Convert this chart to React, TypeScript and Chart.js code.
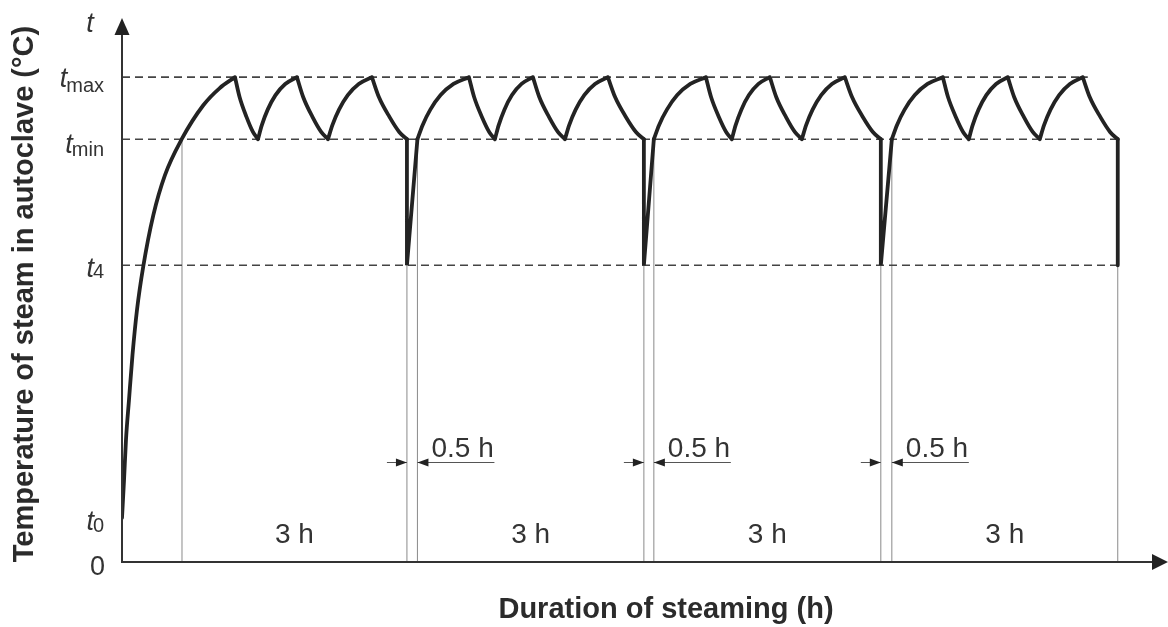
import React, { useEffect, useRef } from 'react';
import { Chart, registerables } from 'chart.js';

Chart.register(...registerables);

// ---- Levels (schematic temperature units, t_max = 100) ----
const T_MAX = 100;
const T_MIN = 87.2;
const T_4 = 61.2;
const T_0 = 9.1;
const X_MAX = 13.95;
const Y_MAX = 112.2;

// ---- Cycle boundaries (schematic time units) ----
const CYCLE_START = [0.8, 3.94, 7.093, 10.267];
const CYCLE_END = [3.8, 6.96, 10.12, 13.28];
const TMAX_LINE_END = 12.88;
const CYCLE_LABEL = '3 h';
const GAP_LABEL = '0.5 h';

// ---- Initial heating curve ----
const WARMUP_X = [0, 0.027, 0.053, 0.093, 0.14, 0.2, 0.284, 0.417, 0.573, 0.796, 1.084, 1.3, 1.507];
const WARMUP_Y = [9.1, 16.9, 25.2, 33.4, 42.7, 52, 61.0, 71.5, 79.8, 87.2, 94.2, 97.7, 100];

// ---- Saw-tooth segments ----
const RISE_Y = [87.2, 90.1, 93.3, 96.3, 98.6, 100];
const FALL_Y = [100, 95.9, 91.8, 88.7, 87.2];

const RISE_X = [
  [1.813, 1.865, 1.943, 2.047, 2.177, 2.333],
  [2.747, 2.806, 2.894, 3.011, 3.157, 3.333],
  [3.94, 4.009, 4.112, 4.249, 4.421, 4.627],
  [4.973, 5.024, 5.1, 5.201, 5.328, 5.48],
  [5.907, 5.964, 6.05, 6.165, 6.308, 6.48],
  [7.093, 7.162, 7.267, 7.405, 7.579, 7.787],
  [8.133, 8.184, 8.26, 8.361, 8.488, 8.64],
  [9.067, 9.124, 9.21, 9.325, 9.468, 9.64],
  [10.267, 10.335, 10.437, 10.573, 10.743, 10.947],
  [11.293, 11.345, 11.423, 11.527, 11.657, 11.813],
  [12.24, 12.297, 12.383, 12.498, 12.641, 12.813],
];

const FALL_X = [
  [1.507, 1.568, 1.66, 1.746, 1.813],
  [2.333, 2.416, 2.54, 2.656, 2.747],
  [3.333, 3.426, 3.567, 3.697, 3.8],
  [4.627, 4.696, 4.8, 4.897, 4.973],
  [5.48, 5.565, 5.694, 5.813, 5.907],
  [6.48, 6.576, 6.72, 6.854, 6.96],
  [7.787, 7.856, 7.96, 8.057, 8.133],
  [8.64, 8.725, 8.854, 8.973, 9.067],
  [9.64, 9.736, 9.88, 10.014, 10.12],
  [10.947, 11.016, 11.12, 11.217, 11.293],
  [11.813, 11.898, 12.027, 12.146, 12.24],
  [12.813, 12.906, 13.047, 13.177, 13.28],
];

const FONT = '"Liberation Sans", Arial, Helvetica, sans-serif';
const CURVE_COLOR = '#232323';
const AXIS_COLOR = '#333333';
const TEXT_COLOR = '#333333';

type Pt = { x: number; y: number | null };

function joinSegments(segs: { x: number[]; y: number[] }[]): Pt[] {
  const pts: Pt[] = [];
  segs.forEach((s, i) => {
    if (i > 0) pts.push({ x: s.x[0], y: null });
    s.x.forEach((xv, j) => pts.push({ x: xv, y: s.y[j] }));
  });
  return pts;
}

function buildCurve(): Pt[] {
  const segs: { x: number[]; y: number[] }[] = [{ x: WARMUP_X, y: WARMUP_Y }];
  RISE_X.forEach((xs) => segs.push({ x: xs, y: RISE_Y }));
  FALL_X.forEach((xs) => segs.push({ x: xs, y: FALL_Y }));
  segs.sort((a, b) => a.x[0] - b.x[0]);
  return joinSegments(segs);
}

function buildDrops(): Pt[] {
  const segs: { x: number[]; y: number[] }[] = [];
  CYCLE_END.forEach((xe, i) => {
    if (i < CYCLE_START.length - 1) {
      segs.push({ x: [xe, xe, CYCLE_START[i + 1]], y: [T_MIN, T_4, T_MIN] });
    } else {
      segs.push({ x: [xe, xe], y: [T_MIN, T_4] });
    }
  });
  return joinSegments(segs);
}

function buildVerticals(): Pt[] {
  const xs = [...CYCLE_START, ...CYCLE_END].sort((a, b) => a - b);
  return joinSegments(xs.map((xv) => ({ x: [xv, xv], y: [0, T_MIN] })));
}

function buildDashed(): Pt[] {
  return joinSegments([
    { x: [0, TMAX_LINE_END], y: [T_MAX, T_MAX] },
    { x: [0, CYCLE_END[CYCLE_END.length - 1]], y: [T_MIN, T_MIN] },
    { x: [0, CYCLE_END[CYCLE_END.length - 1]], y: [T_4, T_4] },
  ]);
}

function tri(ctx: CanvasRenderingContext2D, a: number[], b: number[], c: number[]) {
  ctx.beginPath();
  ctx.moveTo(a[0], a[1]);
  ctx.lineTo(b[0], b[1]);
  ctx.lineTo(c[0], c[1]);
  ctx.closePath();
  ctx.fill();
}

const schematicPlugin = {
  id: 'schematic',
  afterDatasetsDraw(chart: any) {
    const ctx: CanvasRenderingContext2D = chart.ctx;
    const xs = chart.scales.x;
    const ys = chart.scales.y;
    const X = (v: number) => xs.getPixelForValue(v);
    const Y = (v: number) => ys.getPixelForValue(v);
    const x0 = X(0);
    const y0 = Y(0);
    const yTop = Y(Y_MAX);
    const xEnd = X(X_MAX);

    ctx.save();
    // axes
    ctx.strokeStyle = AXIS_COLOR;
    ctx.lineWidth = 2;
    ctx.beginPath();
    ctx.moveTo(x0, y0 + 1);
    ctx.lineTo(x0, yTop + 10);
    ctx.moveTo(x0 - 1, y0);
    ctx.lineTo(xEnd - 10, y0);
    ctx.stroke();
    ctx.fillStyle = '#222';
    tri(ctx, [x0, yTop], [x0 - 7.5, yTop + 17], [x0 + 7.5, yTop + 17]);
    tri(ctx, [xEnd, y0], [xEnd - 16, y0 - 8], [xEnd - 16, y0 + 8]);

    // y labels
    ctx.fillStyle = TEXT_COLOR;
    ctx.textBaseline = 'alphabetic';
    const rightX = 104;
    const subLabel = (sub: string, level: number, tOff: number, sOff: number) => {
      const py = Y(level);
      ctx.font = `20px ${FONT}`;
      ctx.textAlign = 'right';
      const w = ctx.measureText(sub).width;
      ctx.fillText(sub, rightX, py + sOff);
      ctx.font = `italic 27px ${FONT}`;
      ctx.fillText('t', rightX - w + 1, py + tOff);
    };
    subLabel('max', T_MAX, 10, 15);
    subLabel('min', T_MIN, 14, 17);
    subLabel('4', T_4, 12, 13);
    subLabel('0', T_0, 12, 14);
    ctx.font = `27px ${FONT}`;
    ctx.textAlign = 'right';
    ctx.fillText('0', rightX + 1, y0 + 13);
    ctx.font = `italic 27px ${FONT}`;
    ctx.textAlign = 'center';
    ctx.fillText('t', 90, yTop + 14);

    // cycle labels
    ctx.font = `28px ${FONT}`;
    ctx.textAlign = 'center';
    CYCLE_START.forEach((s, i) => {
      const mid = (X(s) + X(CYCLE_END[i])) / 2;
      ctx.fillText(CYCLE_LABEL, mid, y0 - 19);
    });

    // gap dimension arrows
    const dimY = y0 - 100;
    for (let i = 0; i < CYCLE_START.length - 1; i++) {
      const a = X(CYCLE_END[i]);
      const b = X(CYCLE_START[i + 1]);
      ctx.strokeStyle = '#555';
      ctx.lineWidth = 1;
      ctx.beginPath();
      ctx.moveTo(a - 20, dimY + 0.5);
      ctx.lineTo(a, dimY + 0.5);
      ctx.moveTo(b, dimY + 0.5);
      ctx.lineTo(b + 77, dimY + 0.5);
      ctx.stroke();
      ctx.fillStyle = '#222';
      tri(ctx, [a, dimY + 0.5], [a - 11, dimY - 3.5], [a - 11, dimY + 4.5]);
      tri(ctx, [b, dimY + 0.5], [b + 11, dimY - 3.5], [b + 11, dimY + 4.5]);
      ctx.fillStyle = TEXT_COLOR;
      ctx.font = `28px ${FONT}`;
      ctx.textAlign = 'left';
      ctx.fillText(GAP_LABEL, b + 14, dimY - 5);
    }

    // axis titles
    ctx.fillStyle = '#2b2b2b';
    ctx.font = `bold 29px ${FONT}`;
    ctx.textAlign = 'center';
    ctx.fillText('Duration of steaming (h)', 666, y0 + 56);
    ctx.save();
    ctx.translate(33, 294);
    ctx.rotate(-Math.PI / 2);
    ctx.fillText('Temperature of steam in autoclave (°C)', 0, 0);
    ctx.restore();

    ctx.restore();
  },
};

export default function App() {
  const ref = useRef<HTMLCanvasElement | null>(null);

  useEffect(() => {
    if (!ref.current) return;
    const chart = new Chart(ref.current, {
      type: 'line',
      data: {
        datasets: [
          {
            data: buildCurve() as any,
            borderColor: CURVE_COLOR,
            borderWidth: 3.8,
            cubicInterpolationMode: 'monotone',
            borderCapStyle: 'round',
            borderJoinStyle: 'round',
            pointRadius: 0,
            fill: false,
            order: 0,
          },
          {
            data: buildDrops() as any,
            borderColor: CURVE_COLOR,
            borderWidth: 3.8,
            tension: 0,
            borderCapStyle: 'round',
            borderJoinStyle: 'miter',
            pointRadius: 0,
            fill: false,
            order: 1,
          },
          {
            data: buildDashed() as any,
            borderColor: '#444',
            borderWidth: 1.6,
            borderDash: [8, 5],
            tension: 0,
            pointRadius: 0,
            fill: false,
            order: 5,
          },
          {
            data: buildVerticals() as any,
            borderColor: '#8a8a8a',
            borderWidth: 1,
            tension: 0,
            pointRadius: 0,
            fill: false,
            order: 6,
          },
        ],
      },
      options: {
        animation: false,
        responsive: false,
        devicePixelRatio: 1,
        events: [],
        layout: { padding: { left: 122, right: 0, top: 18, bottom: 65 } },
        scales: {
          x: { type: 'linear', min: 0, max: X_MAX, display: false },
          y: { type: 'linear', min: 0, max: Y_MAX, display: false },
        },
        plugins: { legend: { display: false }, tooltip: { enabled: false } },
      },
      plugins: [schematicPlugin],
    } as any);
    return () => chart.destroy();
  }, []);

  return (
    <canvas
      ref={ref}
      width={1168}
      height={627}
      style={{ position: 'absolute', left: 0, top: 0, width: 1168, height: 627, background: '#fff' }}
    />
  );
}
